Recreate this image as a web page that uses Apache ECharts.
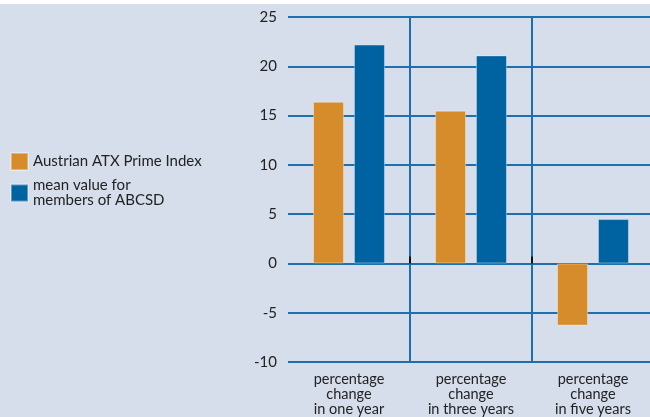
<!DOCTYPE html>
<html>
<head>
<meta charset="utf-8">
<script src="https://cdn.jsdelivr.net/npm/echarts@6/dist/echarts.min.js"></script>
<style>
  html, body { margin: 0; padding: 0; background: #fff; }
  #main { width: 650px; height: 417px; }
</style>
</head>
<body>
<div id="main"></div>
<script>
var categories = ['percentage\nchange\nin one year', 'percentage\nchange\nin three years', 'percentage\nchange\nin five years'];
var atxValues = [16.4, 15.5, -6.3];
var abcsdValues = [22.2, 21.1, 4.5];
var seriesNames = ['Austrian ATX Prime Index', 'mean value for\nmembers of ABCSD'];

var chart = echarts.init(document.getElementById('main'));

var font = 'Lato, "Open Sans", sans-serif';
var lineBlue = '#1d6fae';

var option = {
  backgroundColor: '#d6deec',
  animation: false,
  textStyle: { fontFamily: font },
  graphic: [{
    type: 'rect', left: 0, top: 0,
    shape: { width: 650, height: 4 },
    style: { fill: '#ffffff' }
  }],
  legend: {
    orient: 'vertical',
    left: 10,
    top: 152,
    padding: 0,
    itemWidth: 17,
    itemHeight: 17,
    itemGap: 7,
    icon: 'rect',
    textStyle: { fontSize: 15, color: '#222', lineHeight: 15, fontFamily: font }
  },
  grid: { left: 288, top: 17, width: 366, bottom: 55, outerBoundsMode: 'none' },
  xAxis: [{
    type: 'category',
    data: categories,
    position: 'bottom',
    axisLine: { show: false, onZero: false },
    axisTick: { show: false },
    axisLabel: { fontSize: 14.5, lineHeight: 15, color: '#222', margin: 10 },
    splitLine: {
      show: true,
      interval: function (i) { return i > 0; },
      lineStyle: { color: lineBlue, width: 2 }
    }
  }, {
    type: 'category',
    data: categories,
    position: 'bottom',
    axisLine: { show: true, onZero: true, onZeroAxisIndex: 0, lineStyle: { opacity: 0 } },
    axisTick: {
      show: true, inside: true, length: 7,
      interval: function (i) { return i > 0; },
      lineStyle: { color: '#111', width: 2 }
    },
    axisLabel: { show: false },
    splitLine: { show: false }
  }],
  yAxis: {
    type: 'value',
    min: -10,
    max: 25,
    interval: 5,
    axisLine: { show: false },
    axisTick: { show: false },
    axisLabel: { fontSize: 15, color: '#222', margin: 11 },
    splitLine: { lineStyle: { color: lineBlue, width: 2 } }
  },
  series: [{
    name: seriesNames[0],
    type: 'bar',
    data: atxValues,
    barWidth: 31,
    barGap: '32%',
    itemStyle: { color: '#d68c2b', borderColor: 'rgba(255,255,255,0.35)', borderWidth: 1 }
  }, {
    name: seriesNames[1],
    type: 'bar',
    data: abcsdValues,
    barWidth: 31,
    barGap: '32%',
    itemStyle: { color: '#0063a1', borderColor: 'rgba(255,255,255,0.35)', borderWidth: 1 }
  }]
};

chart.setOption(option);
</script>
</body>
</html>
